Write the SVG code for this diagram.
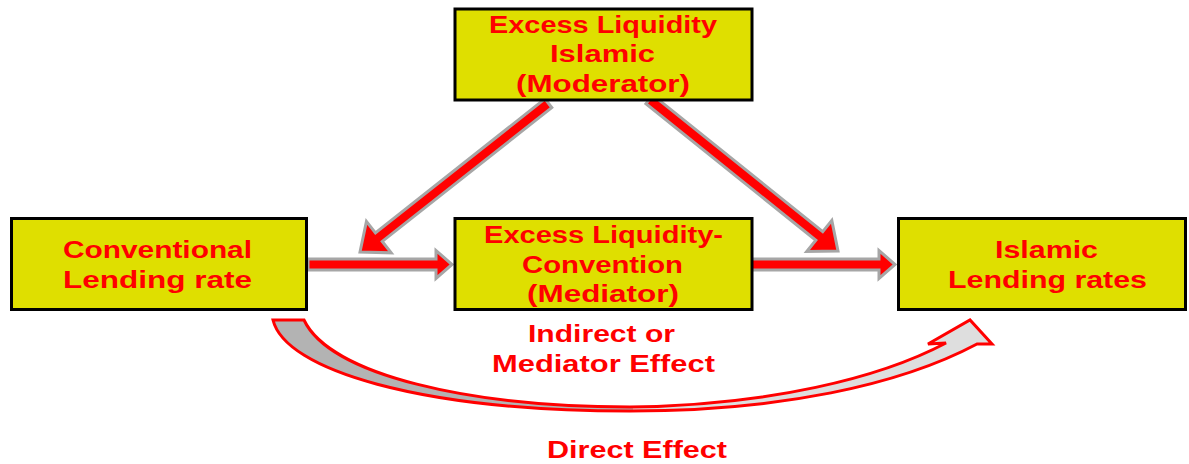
<svg xmlns="http://www.w3.org/2000/svg" width="1189" height="464" viewBox="0 0 1189 464">
<defs>
<style>
.box{fill:#dfdf00;stroke:#000;stroke-width:3}
.t{font-family:"Liberation Sans",Arial,sans-serif;font-weight:bold;font-size:23px;fill:#ff0000}
.arr{fill:#ff0000;stroke:#a6a6a6;stroke-width:3;stroke-linejoin:miter}
</style>
<linearGradient id="cg" gradientUnits="userSpaceOnUse" x1="272" y1="0" x2="995" y2="0">
<stop offset="0" stop-color="#b3b3b3"/>
<stop offset="0.5" stop-color="#b3b3b3"/>
<stop offset="0.5" stop-color="#dedede"/>
<stop offset="1" stop-color="#dedede"/>
</linearGradient>
</defs>
<rect width="1189" height="464" fill="#fff"/>

<g id="connectors">
<g transform="translate(452,264.5)"><polygon class="arr" points="-144,-5.5 -16,-5.5 -16,-14 0,0 -16,14 -16,5.5 -144,5.5"/></g>
<g transform="translate(895,264.5)"><polygon class="arr" points="-145,-5.5 -16,-5.5 -16,-14 0,0 -16,14 -16,5.5 -145,5.5"/></g>
<g transform="translate(360,252) rotate(141.7)"><polygon class="arr" points="-240,-5.5 -24,-5.5 -24,-20 0,0 -24,20 -24,5.5 -240,5.5"/></g>
<g transform="translate(838,251) rotate(38.8)"><polygon class="arr" points="-242,-5.5 -24,-5.5 -24,-20 0,0 -24,20 -24,5.5 -242,5.5"/></g>
<path d="M273,320 C285,370 420,411 630,411 C780,411 900,385 977,344 L992,344 L970,320 L928,344 L946,343 C880,378 770,405 630,407 C470,407 330,375 304,320 Z" fill="url(#cg)" stroke="#ff0000" stroke-width="3" stroke-linejoin="miter"/>
</g>

<g id="node-moderator">
<rect class="box" x="455" y="9" width="297" height="91"/>
<text class="t" x="489" y="33" textLength="228" lengthAdjust="spacingAndGlyphs">Excess Liquidity</text>
<text class="t" x="550" y="62" textLength="105" lengthAdjust="spacingAndGlyphs">Islamic</text>
<text class="t" x="516" y="92" textLength="174" lengthAdjust="spacingAndGlyphs">(Moderator)</text>
</g>

<g id="node-conventional">
<rect class="box" x="11.5" y="218.5" width="295" height="91"/>
<text class="t" x="63" y="258" textLength="189" lengthAdjust="spacingAndGlyphs">Conventional</text>
<text class="t" x="63" y="288" textLength="189" lengthAdjust="spacingAndGlyphs">Lending  rate</text>
</g>

<g id="node-mediator">
<rect class="box" x="455" y="218.5" width="297" height="91"/>
<text class="t" x="484" y="243" textLength="239" lengthAdjust="spacingAndGlyphs">Excess Liquidity-</text>
<text class="t" x="522" y="273" textLength="161" lengthAdjust="spacingAndGlyphs">Convention</text>
<text class="t" x="527" y="302" textLength="152" lengthAdjust="spacingAndGlyphs">(Mediator)</text>
</g>

<g id="node-islamic">
<rect class="box" x="898.5" y="218.5" width="287" height="91"/>
<text class="t" x="995" y="258" textLength="103" lengthAdjust="spacingAndGlyphs">Islamic</text>
<text class="t" x="948" y="288" textLength="199" lengthAdjust="spacingAndGlyphs">Lending rates</text>
</g>

<g id="labels">
<text class="t" x="528" y="342" textLength="147" lengthAdjust="spacingAndGlyphs">Indirect or</text>
<text class="t" x="492" y="372" textLength="223" lengthAdjust="spacingAndGlyphs">Mediator Effect</text>
<text class="t" x="547" y="458" textLength="180" lengthAdjust="spacingAndGlyphs">Direct Effect</text>
</g>
</svg>
